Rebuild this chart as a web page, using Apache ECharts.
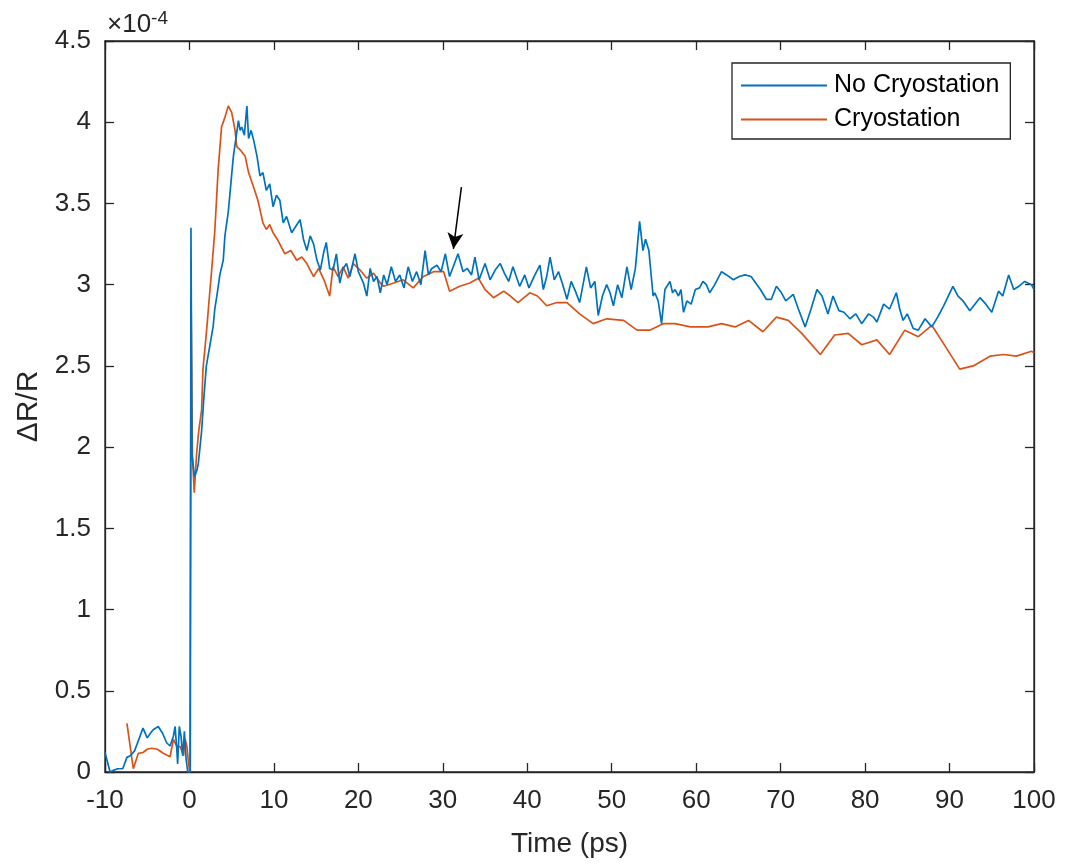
<!DOCTYPE html>
<html>
<head>
<meta charset="utf-8">
<script src="https://cdn.jsdelivr.net/npm/echarts@6/dist/echarts.min.js"></script>
<style>
html,body{margin:0;padding:0;background:#fff;}
#chart{width:1065px;height:865px;}
</style>
</head>
<body>
<div id="chart"></div>
<script>
// Values in units of 1e-4
const seriesNames = ['No Cryostation', 'Cryostation'];
const xTicks = [-10, 0, 10, 20, 30, 40, 50, 60, 70, 80, 90, 100];
const yTicks = [0, 0.5, 1, 1.5, 2, 2.5, 3, 3.5, 4, 4.5];

const blueT = [-10,-9.7,-9.4,-9.0,-8.5,-7.9,-7.4,-7.0,-6.5,-6.0,-5.5,-5.0,-4.6,-4.3,-3.7,-3.2,-2.7,-2.3,-1.9,-1.7,-1.5,-1.4,-1.2,-1.0,-0.8,-0.6,-0.4,-0.2,0.1,0.18,0.3,0.6,0.9,1.05,1.25,1.44,1.7,2.0,2.4,2.8,3.0,3.3,3.6,4.0,4.2,4.6,4.9,5.2,5.5,5.8,6.0,6.2,6.5,6.8,7.0,7.3,7.6,8.0,8.35,8.7,9.1,9.5,9.9,10.3,10.7,11.1,11.5,12.1,12.6,13.1,13.5,13.9,14.3,14.7,15.1,15.5,15.9,16.2,16.6,17.0,17.4,17.8,18.2,18.6,19.0,19.6,20.0,20.6,21.0,21.4,21.8,22.2,22.6,23.0,23.4,23.9,24.4,24.9,25.4,25.9,26.4,26.9,27.4,27.9,28.3,28.7,29.3,29.8,30.3,30.8,31.3,31.8,32.4,32.9,33.4,33.8,34.3,35.0,35.6,36.2,36.8,37.3,37.8,38.3,39.1,39.7,40.2,40.8,41.5,41.9,42.3,42.7,43.2,43.7,44.2,44.7,45.2,45.7,46.2,47.0,47.5,48.0,48.4,48.9,49.4,49.8,50.2,50.7,51.2,51.8,52.3,52.8,53.3,53.7,54.0,54.4,54.9,55.1,55.5,55.9,56.3,56.9,57.2,57.5,57.9,58.2,58.5,58.9,59.4,59.9,60.4,60.8,61.2,61.6,62.2,63.0,63.6,64.4,65.1,65.8,66.5,67.6,68.3,68.9,69.5,70.1,70.6,71.5,72.1,72.9,73.6,74.3,74.9,75.6,76.2,76.9,77.5,78.2,78.9,79.6,80.4,81.0,81.4,82.2,82.9,83.7,84.1,84.5,85.0,85.7,86.3,87.1,87.9,88.6,89.3,90.4,91.0,91.6,92.4,93.0,93.6,94.3,95.0,95.8,96.3,97.0,97.6,98.2,98.9,99.7,100];
const blueV = [0.12,0.06,0.0,0.01,0.02,0.02,0.09,0.10,0.13,0.20,0.27,0.21,0.24,0.26,0.28,0.24,0.18,0.16,0.22,0.28,0.14,0.05,0.28,0.22,0.10,0.25,0.08,0.0,0.0,3.35,1.95,1.82,1.86,1.90,2.00,2.10,2.30,2.50,2.62,2.74,2.85,2.95,3.06,3.15,3.30,3.45,3.62,3.79,3.90,4.01,3.95,3.97,3.92,4.10,3.90,3.95,3.89,3.79,3.67,3.69,3.58,3.62,3.48,3.55,3.52,3.38,3.42,3.32,3.36,3.40,3.28,3.21,3.30,3.25,3.15,3.09,3.20,3.26,3.10,3.09,3.19,3.01,3.10,3.13,3.05,3.19,3.08,3.01,2.93,3.10,3.02,3.05,2.95,3.06,3.00,3.11,3.02,3.06,2.98,3.11,3.02,3.08,3.00,3.21,3.06,3.10,3.12,3.08,3.19,3.05,3.12,3.19,3.08,3.10,3.06,3.17,3.03,3.13,3.03,3.09,3.13,3.07,3.02,3.11,2.99,3.06,2.98,3.05,3.12,2.97,3.05,3.17,3.03,3.08,3.00,2.91,3.02,2.96,2.89,3.11,2.98,3.02,2.81,2.93,3.00,2.95,2.87,3.00,2.92,3.11,2.97,3.10,3.39,3.21,3.28,3.21,2.93,2.95,2.90,2.76,2.97,3.02,2.95,2.97,2.93,2.97,2.83,2.90,2.88,2.97,2.98,3.02,3.00,2.95,3.00,3.08,3.06,3.03,3.05,3.06,3.05,2.97,2.91,2.91,2.99,2.95,2.90,2.94,2.85,2.74,2.85,2.97,2.93,2.82,2.93,2.84,2.83,2.79,2.82,2.76,2.82,2.80,2.77,2.88,2.85,2.95,2.85,2.78,2.82,2.73,2.72,2.79,2.74,2.80,2.87,2.99,2.93,2.90,2.84,2.88,2.92,2.88,2.83,2.96,2.93,3.06,2.97,2.99,3.02,3.00,2.97];

const orangeT = [-7.4,-6.65,-6.05,-5.5,-5.0,-4.5,-3.8,-3.1,-2.3,-1.9,-1.5,-1.1,-0.7,-0.5,-0.3,-0.1,0.05,0.2,0.35,0.57,0.85,1.1,1.44,1.6,2.0,2.4,2.6,3.0,3.2,3.4,3.8,4.2,4.6,5.0,5.4,5.6,6.0,6.6,7.0,7.6,8.1,8.7,9.1,9.5,9.9,10.4,10.9,11.3,12.0,12.7,13.3,13.9,14.7,15.3,16.0,16.6,17.0,17.6,18.2,18.8,19.4,20.2,21.0,21.8,22.6,23.0,24.2,25.3,26.5,27.7,28.9,30.1,30.8,32.0,33.2,34.2,35.0,36.0,37.2,38.0,38.9,40.3,41.2,42.3,43.5,44.7,46.2,47.8,49.4,51.4,53.0,54.5,56.1,57.5,59.3,61.4,63.0,64.6,66.2,67.9,69.5,70.9,72.5,74.7,76.4,78.0,79.6,81.4,82.9,84.7,86.3,87.9,89.5,91.2,92.8,94.8,96.4,97.9,99.7,100];
const orangeV = [0.30,0.02,0.115,0.12,0.14,0.146,0.14,0.115,0.094,0.20,0.16,0.156,0.10,0.20,0.156,0.05,0.0,2.87,1.95,1.72,1.96,2.10,2.23,2.48,2.70,2.95,3.07,3.33,3.52,3.71,3.97,4.03,4.10,4.06,3.95,3.85,3.83,3.79,3.69,3.60,3.52,3.38,3.34,3.37,3.32,3.28,3.23,3.19,3.21,3.15,3.17,3.13,3.05,3.10,3.02,2.93,3.11,3.05,3.11,3.04,3.13,3.09,3.04,3.07,3.01,2.99,3.01,3.03,2.98,3.05,3.08,3.08,2.96,2.99,3.01,3.04,2.97,2.92,2.96,2.93,2.89,2.95,2.93,2.87,2.89,2.89,2.82,2.76,2.79,2.78,2.72,2.72,2.76,2.76,2.74,2.74,2.76,2.74,2.78,2.71,2.80,2.78,2.70,2.57,2.69,2.70,2.63,2.66,2.57,2.72,2.68,2.75,2.62,2.48,2.50,2.56,2.57,2.56,2.59,2.58];

// Arrow annotation (data coordinates): tail, head
const arrowTail = [32.2, 3.60];
const arrowHead = [31.25, 3.22];

const zip = (t, v) => t.map((x, i) => [x, v[i]]);

const FONT = '"Liberation Sans", Arial, Helvetica, sans-serif';
const AX = '#262626';
const BLUE = '#0072BD';
const ORANGE = '#D95319';

const chart = echarts.init(document.getElementById('chart'), null, {renderer: 'canvas'});

const baseX = {
  type: 'value', min: xTicks[0], max: xTicks[xTicks.length - 1], interval: 10,
  axisLine: {show: true, onZero: false, lineStyle: {color: AX, width: 1.3}},
  axisTick: {show: true, inside: true, length: 9, lineStyle: {color: AX, width: 1.3}},
  splitLine: {show: false}
};
const baseY = {
  type: 'value', min: yTicks[0], max: yTicks[yTicks.length - 1], interval: 0.5,
  axisLine: {show: true, onZero: false, lineStyle: {color: AX, width: 1.3}},
  axisTick: {show: true, inside: true, length: 9, lineStyle: {color: AX, width: 1.3}},
  splitLine: {show: false}
};

chart.setOption({
  animation: false,
  backgroundColor: '#fff',
  grid: {left: 105, right: 31, top: 41, bottom: 93, show: true, borderColor: AX, borderWidth: 1.3, containLabel: false},
  legend: {
    orient: 'vertical', left: 732, top: 63,
    padding: [10, 11, 7, 9], itemGap: 9,
    itemWidth: 86, itemHeight: 2,
    backgroundColor: '#fff', borderColor: AX, borderWidth: 1.3,
    textStyle: {fontFamily: FONT, fontSize: 25, color: '#000', padding: [0,0,0,2]},
    data: [
      {name: seriesNames[0], icon: 'rect'},
      {name: seriesNames[1], icon: 'rect'}
    ]
  },
  xAxis: [
    Object.assign({}, baseX, {
      position: 'bottom',
      name: 'Time (ps)', nameLocation: 'middle', nameGap: 58,
      nameTextStyle: {fontFamily: FONT, fontSize: 28, color: AX},
      axisLabel: {show: true, margin: 16, fontFamily: FONT, fontSize: 26, color: AX}
    }),
    Object.assign({}, baseX, {position: 'top', axisLabel: {show: false}})
  ],
  yAxis: [
    Object.assign({}, baseY, {
      position: 'left',
      name: 'ΔR/R', nameLocation: 'middle', nameGap: 60,
      nameTextStyle: {fontFamily: FONT, fontSize: 30, color: AX},
      axisLabel: {show: true, margin: 14, fontFamily: FONT, fontSize: 26, color: AX}
    }),
    Object.assign({}, baseY, {position: 'right', axisLabel: {show: false}})
  ],
  graphic: [{
    type: 'text', left: 107, top: 9,
    style: {
      text: '×10{sup|-4}', fontFamily: FONT, fontSize: 26, fill: AX,
      rich: {sup: {fontFamily: FONT, fontSize: 19, fill: AX, verticalAlign: 'top', padding: [0,0,12,0]}}
    }
  }],
  series: [
    {
      name: seriesNames[0], type: 'line', data: zip(blueT, blueV),
      showSymbol: false, symbol: 'none', z: 3,
      lineStyle: {color: BLUE, width: 1.7}, itemStyle: {color: BLUE}
    },
    {
      name: seriesNames[1], type: 'line', data: zip(orangeT, orangeV),
      showSymbol: false, symbol: 'none', z: 2,
      lineStyle: {color: ORANGE, width: 1.7}, itemStyle: {color: ORANGE},
      markLine: {
        silent: true, symbol: ['none', 'arrow'], symbolSize: [12, 16],
        label: {show: false},
        lineStyle: {color: '#000', width: 1.5, type: 'solid'},
        data: [[{coord: arrowTail}, {coord: arrowHead}]]
      }
    }
  ]
});
</script>
</body>
</html>
